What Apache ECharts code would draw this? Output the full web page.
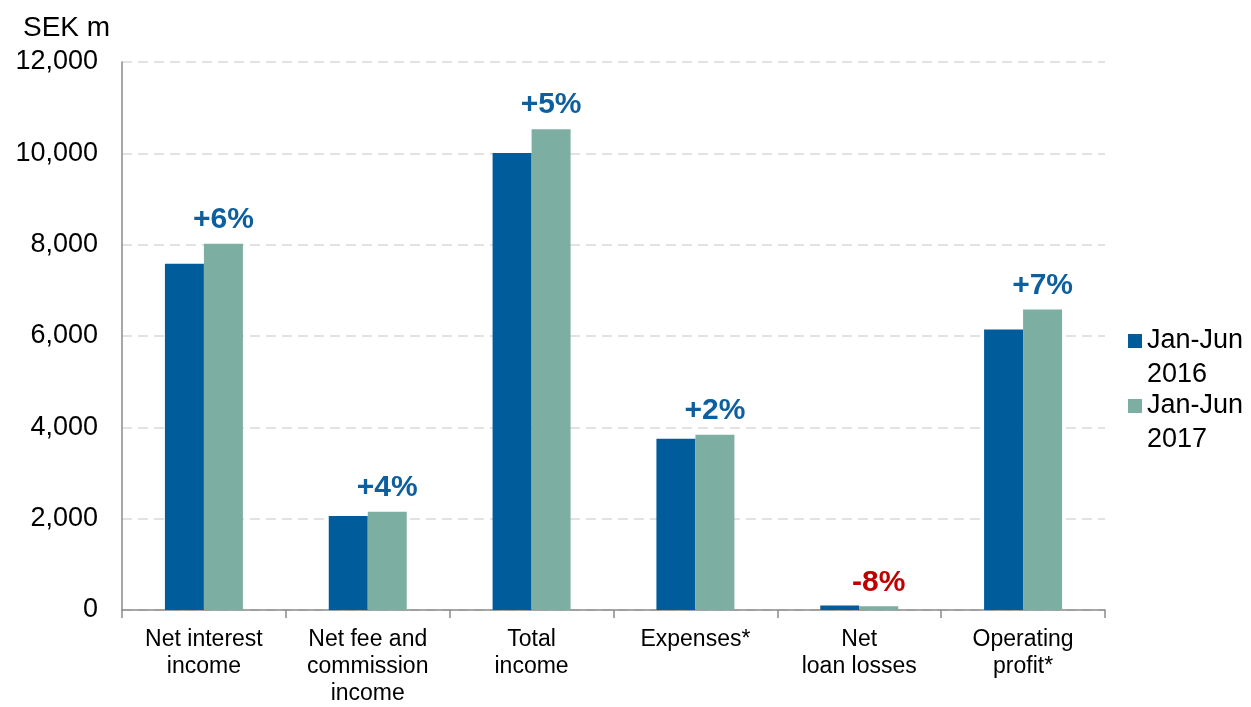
<!DOCTYPE html>
<html>
<head>
<meta charset="utf-8">
<script src="https://cdn.jsdelivr.net/npm/echarts@6/dist/echarts.min.js"></script>
<style>
html,body{margin:0;padding:0;background:#fff;}
#chart{width:1251px;height:707px;}
</style>
</head>
<body>
<div id="chart"></div>
<script>
const categories = ['Net interest\nincome', 'Net fee and\ncommission\nincome', 'Total\nincome', 'Expenses*', 'Net\nloan losses', 'Operating\nprofit*'];
const seriesNames = ['Jan-Jun\n2016', 'Jan-Jun\n2017'];
const values2016 = [7580, 2060, 10010, 3750, 100, 6140];
const values2017 = [8020, 2150, 10530, 3840, 80, 6580];
const changeLabels = ['+6%', '+4%', '+5%', '+2%', '-8%', '+7%'];
const yTicks = [0, 2000, 4000, 6000, 8000, 10000, 12000];

const FONT = '"Liberation Sans", Arial, sans-serif';
const BLUE = '#015c9c';
const TEAL = '#7caea2';

const chart = echarts.init(document.getElementById('chart'), null, {renderer: 'canvas'});
chart.setOption({
  animation: false,
  backgroundColor: '#ffffff',
  textStyle: {fontFamily: FONT},
  title: {
    text: 'SEK m',
    left: 18, top: 9,
    textStyle: {fontFamily: FONT, fontSize: 28, fontWeight: 'normal', color: '#000'}
  },
  grid: {left: 122, right: 146, top: 62, bottom: 95, containLabel: false},
  legend: {
    orient: 'vertical',
    left: 1128, top: 290,
    padding: 0,
    itemWidth: 14, itemHeight: 14,
    itemGap: -37,
    icon: 'rect',
    data: seriesNames,
    formatter: name => '\u00a0\n' + name,
    textStyle: {fontFamily: FONT, fontSize: 27, color: '#000', lineHeight: 34}
  },
  xAxis: {
    type: 'category',
    data: categories,
    axisLine: {lineStyle: {color: '#8a8a8a', width: 1.5}},
    axisTick: {show: true, length: 8, lineStyle: {color: '#8a8a8a', width: 1.5}},
    axisLabel: {interval: 0, margin: 16, fontFamily: FONT, fontSize: 23, lineHeight: 27, color: '#000'}
  },
  yAxis: {
    type: 'value',
    min: yTicks[0], max: yTicks[yTicks.length - 1], interval: 2000,
    axisLine: {show: true, lineStyle: {color: '#8a8a8a', width: 1.5}},
    axisTick: {show: false},
    axisLabel: {
      margin: 24, fontFamily: FONT, fontSize: 27, color: '#000',
      formatter: v => v.toLocaleString('en-US')
    },
    splitLine: {show: true, lineStyle: {color: '#d9d9d9', width: 1.5, type: [10, 6]}}
  },
  series: [
    {
      name: seriesNames[0], type: 'bar', data: values2016,
      barWidth: 39, barGap: '0%',
      itemStyle: {color: BLUE}
    },
    {
      name: seriesNames[1], type: 'bar',
      data: values2017.map((v, i) => ({
        value: v,
        label: changeLabels[i].startsWith('-') ? {color: '#c00000'} : {}
      })),
      barWidth: 39, barGap: '0%',
      itemStyle: {color: TEAL},
      label: {
        show: true, position: 'top', distance: 9,
        fontFamily: FONT, fontSize: 30, fontWeight: 'bold',
        formatter: p => changeLabels[p.dataIndex],
        color: '#0d5f9f'
      }
    }
  ]
});
</script>
</body>
</html>
